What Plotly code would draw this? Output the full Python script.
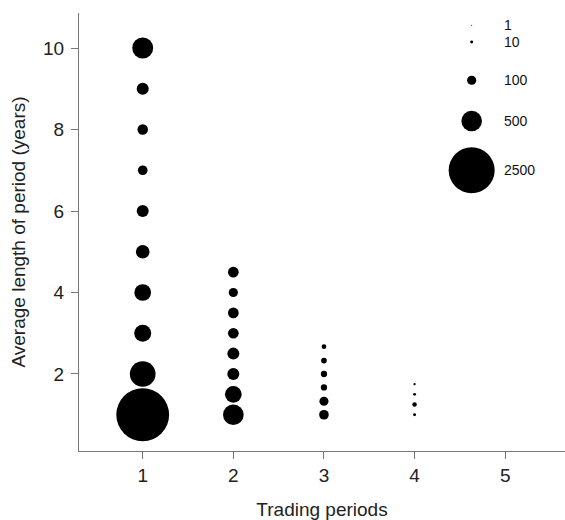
import plotly.graph_objects as go

# Data: trading period (x), average length of period (y), count (bubble size)
period_1_y = [1, 2, 3, 4, 5, 6, 7, 8, 9, 10]
period_1_n = [3300, 780, 340, 330, 220, 170, 110, 130, 170, 520]
period_2_y = [1, 1.5, 2, 2.5, 3, 3.5, 4, 4.5]
period_2_n = [505, 330, 170, 170, 135, 135, 100, 135]
period_3_y = [1, 1.33, 1.67, 2, 2.33, 2.67]
period_3_n = [110, 96, 47, 47, 38, 26]
period_4_y = [1, 1.25, 1.5, 1.75]
period_4_n = [10, 24, 10, 6]

legend_values = [1, 10, 100, 500, 2500]
legend_labels = ["1", "10", "100", "500", "2500"]
# legend layout positions (in data coordinates)
legend_x = 4.63
legend_y = [10.56, 10.15, 9.21, 8.21, 7.0]

x_ticks = [1, 2, 3, 4, 5]
y_ticks = [2, 4, 6, 8, 10]

SIZEREF = 2.363
FONT = "Liberation Sans, Arial, sans-serif"

xs, ys, ns = [], [], []
for p, (yy, nn) in enumerate([(period_1_y, period_1_n), (period_2_y, period_2_n),
                               (period_3_y, period_3_n), (period_4_y, period_4_n)], start=1):
    xs += [p] * len(yy)
    ys += yy
    ns += nn

fig = go.Figure()
fig.add_trace(go.Scatter(
    x=xs, y=ys, mode="markers",
    marker=dict(size=ns, sizemode="area", sizeref=SIZEREF, sizemin=0.5,
                color="black", opacity=1, line=dict(width=0)),
    showlegend=False, hoverinfo="x+y+text", text=[str(n) for n in ns],
))

# size legend
fig.add_trace(go.Scatter(
    x=[legend_x] * len(legend_values), y=legend_y, mode="markers",
    marker=dict(size=legend_values, sizemode="area", sizeref=SIZEREF, sizemin=0.5,
                color="black", opacity=1, line=dict(width=0)),
    showlegend=False, hoverinfo="skip",
))
for lab, ly in zip(legend_labels, legend_y):
    fig.add_annotation(x=legend_x, y=ly, text=lab, showarrow=False,
                       xanchor="left", yanchor="middle", xshift=30,
                       font=dict(family=FONT, size=14, color="#111"))

axis_common = dict(showgrid=False, zeroline=False, showline=True,
                   linecolor="#777", linewidth=1, ticks="outside",
                   ticklen=7, tickcolor="#777", tickwidth=1,
                   tickfont=dict(family=FONT, size=19, color="#222"),
                   mirror=False)

fig.update_layout(
    width=565, height=520,
    margin=dict(l=79, r=0, t=13, b=69),
    plot_bgcolor="white", paper_bgcolor="white",
    xaxis=dict(range=[0.297, 5.66], tickvals=x_ticks,
               title=dict(text="Trading periods", standoff=20,
                          font=dict(family=FONT, size=19, color="#222")),
               **axis_common),
    yaxis=dict(range=[0.11, 10.86], tickvals=y_ticks, ticklabelstandoff=3,
               title=dict(text="Average length of period (years)", standoff=12,
                          font=dict(family=FONT, size=19, color="#222")),
               **axis_common),
)

fig.write_html("out.html")
